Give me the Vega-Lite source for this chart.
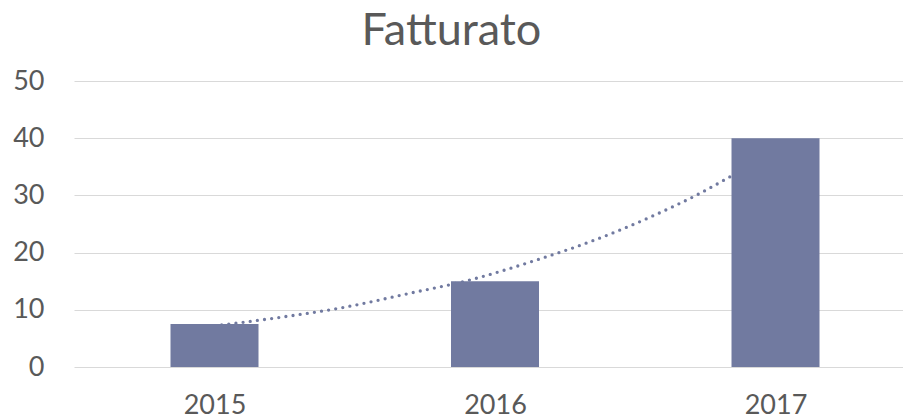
{
  "$schema": "https://vega.github.io/schema/vega-lite/v6.json",
  "width": 829,
  "height": 286,
  "autosize": {"type": "none"},
  "padding": {"left": 74, "top": 81, "right": 0, "bottom": 51},
  "background": "white",
  "title": {
    "text": "Fatturato",
    "font": "Lato",
    "fontSize": 45,
    "fontWeight": "normal",
    "color": "#595959",
    "anchor": "middle",
    "frame": "group",
    "dx": -37,
    "baseline": "alphabetic",
    "offset": -23
  },
  "config": {
    "view": {"stroke": null},
    "axis": {"labelFont": "Lato", "labelColor": "#595959", "labelFontSize": 27, "domain": false, "ticks": false}
  },
  "datasets": {
    "bars": [
      {"anno": 2015, "fatturato": 7.5},
      {"anno": 2016, "fatturato": 15},
      {"anno": 2017, "fatturato": 40}
    ],
    "trend": [
      {"anno": 2015.0, "valore": 7.2},
      {"anno": 2015.222, "valore": 8.6},
      {"anno": 2015.458, "valore": 10.4},
      {"anno": 2015.697, "valore": 12.9},
      {"anno": 2015.917, "valore": 15.3},
      {"anno": 2016.16, "valore": 18.9},
      {"anno": 2016.35, "valore": 22.1},
      {"anno": 2016.553, "valore": 26.2},
      {"anno": 2016.732, "valore": 30.4},
      {"anno": 2016.832, "valore": 33.1},
      {"anno": 2017.0, "valore": 38.0}
    ]
  },
  "encoding": {
    "x": {
      "type": "quantitative",
      "scale": {"domain": [2014.4991, 2017.4545], "nice": false, "zero": false, "padding": 0},
      "axis": {"title": null, "values": [2015, 2016, 2017], "format": "d", "grid": false, "labelPadding": 25, "labelFlush": false}
    },
    "y": {
      "type": "quantitative",
      "scale": {"domain": [0, 50], "nice": false},
      "axis": {"title": null, "values": [0, 10, 20, 30, 40, 50], "grid": true, "gridColor": "#d9d9d9", "gridWidth": 1.2, "labelPadding": 30}
    }
  },
  "layer": [
    {
      "data": {"name": "trend"},
      "mark": {"type": "line", "interpolate": "monotone", "color": "#717aa0", "strokeWidth": 3.3, "strokeDash": [0, 7.2], "strokeCap": "round"},
      "encoding": {
        "x": {"field": "anno"},
        "y": {"field": "valore"}
      }
    },
    {
      "data": {"name": "bars"},
      "mark": {"type": "bar", "size": 88, "color": "#717aa0"},
      "encoding": {
        "x": {"field": "anno"},
        "y": {"field": "fatturato"}
      }
    }
  ]
}
